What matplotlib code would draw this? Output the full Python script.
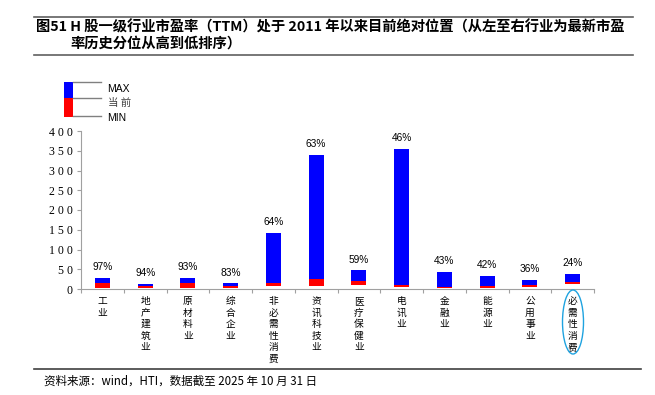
import numpy as np
import matplotlib
matplotlib.use("Agg")
from matplotlib import pyplot as plt
from matplotlib.patches import Rectangle, Ellipse
from matplotlib.lines import Line2D

plt.rcParams['font.family'] = ['Noto Sans CJK SC', 'DejaVu Sans']

# data (PE TTM since 2011)
industries = ["工业", "地产建筑业", "原材料业", "综合企业", "非必需性消费", "资讯科技业",
              "医疗保健业", "电讯业", "金融业", "能源业", "公用事业", "必需性消费"]
pe_min = [2.5, 3, 2.5, 3, 8, 8, 10, 6, 3, 3, 6, 12]
pe_now = [15, 8.4, 15, 8.4, 16, 25.5, 20, 11, 5, 8.5, 11, 17]
pe_max = [29, 13.5, 28, 15, 142, 340, 47.6, 355, 43, 34, 23, 39]
pct = ["97%", "94%", "93%", "83%", "64%", "63%", "59%", "46%", "43%", "42%", "36%", "24%"]
yticks = [0, 50, 100, 150, 200, 250, 300, 350, 400]

W, H = 655, 395
fig = plt.figure(figsize=(W / 100, H / 100), dpi=100)
ax = fig.add_axes([81 / W, 1 - 289 / H, (594 - 81) / W, (289 - 131) / H])

x = np.arange(len(industries))
lo = np.array(pe_min)
cur = np.array(pe_now)
hi = np.array(pe_max)
ax.bar(x, cur - lo, bottom=lo, width=0.35, color="#ff0000", linewidth=0)
ax.bar(x, hi - cur, bottom=cur, width=0.35, color="#0000ff", linewidth=0)

for i in range(len(x)):
    ax.annotate(pct[i], (x[i], hi[i]), xytext=(0, 4), textcoords="offset points",
                ha="center", va="bottom", fontsize=7.3, family="Liberation Sans")

ax.set_xlim(-0.5, len(x) - 0.5)
ax.set_ylim(0, 400)
ax.set_yticks(yticks)
ax.set_yticklabels([" ".join(str(v)) for v in yticks], family="Liberation Serif", fontsize=8.5)
ax.set_xticks(np.arange(len(x) + 1) - 0.5)
ax.set_xticklabels([])
ax.tick_params(axis="x", length=3, color="#a0a0a0", direction="out")
ax.tick_params(axis="y", length=3, color="#a0a0a0", direction="out", pad=3)
for s in ["top", "right"]:
    ax.spines[s].set_visible(False)
for s in ["left", "bottom"]:
    ax.spines[s].set_color("#a0a0a0")
    ax.spines[s].set_linewidth(0.8)

# vertical category labels, one character per line
for i, name in enumerate(industries):
    ax.annotate("\n".join(name), (x[i], 0), xytext=(0, -5), textcoords="offset points",
                ha="center", va="top", fontsize=7, linespacing=1.2)

# circle around the last category
fig.add_artist(Ellipse((573 / W, 1 - 322 / H), 21 / W, 64 / H, transform=fig.transFigure,
                       fill=False, edgecolor="#1fa3e0", linewidth=1))

# legend
fig.add_artist(Rectangle((64 / W, 1 - 98 / H), 9 / W, 16 / H, transform=fig.transFigure,
                         color="#0000ff", linewidth=0))
fig.add_artist(Rectangle((64 / W, 1 - 117 / H), 9 / W, 19 / H, transform=fig.transFigure,
                         color="#ff0000", linewidth=0))
for yy in [82, 98, 116]:
    fig.add_artist(Line2D([73 / W, 101 / W], [1 - yy / H, 1 - yy / H], transform=fig.transFigure,
                          color="#808080", linewidth=1))
fig.text(107 / W, 1 - 89 / H, "MAX", fontsize=7.5, family="Liberation Sans", va="center")
fig.text(108 / W, 1 - 103 / H, "当 前", fontsize=7.5, va="center", color="#404040")
fig.text(107 / W, 1 - 118 / H, "MIN", fontsize=7.5, family="Liberation Sans", va="center")

# title and footer
fig.add_artist(Line2D([34 / W, 633 / W], [1 - 17 / H, 1 - 17 / H], transform=fig.transFigure,
                      color="#606060", linewidth=1.2))
fig.add_artist(Line2D([34 / W, 633 / W], [1 - 55 / H, 1 - 55 / H], transform=fig.transFigure,
                      color="#606060", linewidth=1.2))
fig.text(36 / W, 1 - 27 / H, "图51 H 股一级行业市盈率（TTM）处于 2011 年以来目前绝对位置（从左至右行业为最新市盈",
         fontsize=10.3, fontweight="bold", va="center")
fig.text(70 / W, 1 - 44 / H, "率历史分位从高到低排序）", fontsize=10.3, fontweight="bold", va="center")
fig.add_artist(Line2D([34 / W, 641 / W], [1 - 369 / H, 1 - 369 / H], transform=fig.transFigure,
                      color="#404040", linewidth=1.2))
fig.text(44 / W, 1 - 381 / H, "资料来源：wind，HTI，数据截至 2025 年 10 月 31 日", fontsize=8.3, va="center")

plt.savefig("out.png", dpi=100)
